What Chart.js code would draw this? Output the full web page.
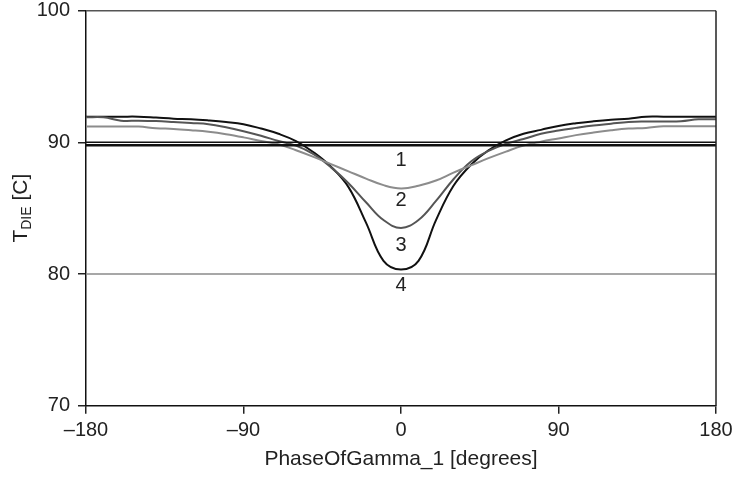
<!DOCTYPE html>
<html>
<head>
<meta charset="utf-8">
<script src="https://cdn.jsdelivr.net/npm/chart.js@4.4.1/dist/chart.umd.min.js"></script>
<style>
  body { margin: 0; background: #fff; }
  #wrap { width: 733px; height: 477px; }
</style>
</head>
<body>
<div id="wrap"><canvas id="chart" width="733" height="477"></canvas></div>
<script>
// phase angle, degrees
const phase = [-180, -170, -160, -150, -140, -130, -120, -110, -100, -90, -80, -70, -60, -50, -40, -30, -20, -10,
    0, 10, 20, 30, 40, 50, 60, 70, 80, 90, 100, 110, 120, 130, 140, 150, 160, 170, 180];

// die temperature, light grey curve (shallowest dip)
const tempLight = [91.2, 91.2, 91.2, 91.2, 91.08, 91.02, 90.92, 90.8, 90.62, 90.38, 90.1, 89.85, 89.4, 88.9, 88.35, 87.8, 87.25, 86.75,
    86.5, 86.7, 87.1, 87.7, 88.25, 88.8, 89.3, 89.75, 90.05, 90.3, 90.55, 90.75, 90.92, 91.05, 91.1, 91.22, 91.22, 91.22, 91.22];

// dark grey curve
const tempMid = [91.9, 91.9, 91.65, 91.65, 91.62, 91.55, 91.47, 91.38, 91.15, 90.85, 90.5, 90.1, 89.75, 89.1, 88.1, 86.9, 85.45, 84.1,
    83.5, 84.1, 85.55, 87.2, 88.55, 89.35, 89.9, 90.25, 90.65, 90.9, 91.1, 91.28, 91.42, 91.55, 91.58, 91.58, 91.6, 91.75, 91.75];

// black curve (deepest dip)
const tempDeep = [91.95, 91.95, 91.95, 91.95, 91.88, 91.8, 91.76, 91.67, 91.55, 91.38, 91.05, 90.65, 90.1, 89.25, 88.15, 86.6, 83.9, 81.0,
    80.35, 81.0, 84.1, 86.7, 88.3, 89.4, 90.15, 90.65, 90.95, 91.25, 91.45, 91.6, 91.72, 91.8, 91.95, 91.95, 91.95, 91.95, 91.95];

// flat reference levels
const flatUpper = 90.0;
const flatLower = 89.78;
const flatBottom = 80.0;

const xTicks = [-180, -90, 0, 90, 180];
const xTickLabels = ["\u2013180", "\u201390", "0", "90", "180"];
const yTicks = [70, 80, 90, 100];
const yTickLabels = ["70", "80", "90", "100"];

// curve labels, placed at phase 0
const curveLabels = ["1", "2", "3", "4"];
const curveLabelY = [88.6, 85.6, 82.2, 79.1];

const FONT = "'Liberation Sans', Arial, Helvetica, sans-serif";

function pts(ys) {
    return phase.map((p, i) => ({ x: p, y: ys[i] }));
}
function flat(v) {
    return [{ x: -180, y: v }, { x: 180, y: v }];
}

// top + right frame
const framePlugin = {
    id: "frame",
    afterDraw(chart) {
        const { ctx, chartArea: a } = chart;
        ctx.save();
        ctx.lineWidth = 1.5;
        ctx.strokeStyle = "#555";
        ctx.beginPath();
        ctx.moveTo(a.left, a.top);
        ctx.lineTo(a.right, a.top);
        ctx.stroke();
        ctx.strokeStyle = "#222";
        ctx.beginPath();
        ctx.moveTo(a.right, a.top);
        ctx.lineTo(a.right, a.bottom);
        ctx.stroke();
        ctx.restore();
    }
};

// numbers 1..4 next to the curves
const labelPlugin = {
    id: "curveLabels",
    afterDatasetsDraw(chart) {
        const { ctx, scales } = chart;
        ctx.save();
        ctx.font = "20px " + FONT;
        ctx.fillStyle = "#222";
        ctx.textAlign = "center";
        ctx.textBaseline = "middle";
        curveLabels.forEach((t, i) => {
            ctx.fillText(t, scales.x.getPixelForValue(0), scales.y.getPixelForValue(curveLabelY[i]));
        });
        ctx.restore();
    }
};

// y title with subscript
const yTitlePlugin = {
    id: "yTitle",
    afterDraw(chart) {
        const { ctx, chartArea: a } = chart;
        const parts = [["T", 21, 0], ["DIE", 14, 4], [" [C]", 21, 0]];
        ctx.save();
        let total = 0;
        parts.forEach(([s, sz]) => { ctx.font = sz + "px " + FONT; total += ctx.measureText(s).width; });
        ctx.translate(20, (a.top + a.bottom) / 2);
        ctx.rotate(-Math.PI / 2);
        ctx.fillStyle = "#222";
        ctx.textBaseline = "alphabetic";
        let x = -total / 2;
        parts.forEach(([s, sz, dy]) => {
            ctx.font = sz + "px " + FONT;
            ctx.fillText(s, x, 7 + dy);
            x += ctx.measureText(s).width;
        });
        ctx.restore();
    }
};

const lineDs = (data, color, width) => ({
    data,
    borderColor: color,
    borderWidth: width,
    pointRadius: 0,
    fill: false,
    tension: 0.4,
    borderJoinStyle: "round"
});

new Chart(document.getElementById("chart").getContext("2d"), {
    type: "line",
    data: {
        datasets: [
            lineDs(flat(flatBottom), "#8a8a8a", 1.5),
            lineDs(flat(flatUpper), "#111", 1.5),
            lineDs(flat(flatLower), "#111", 2.5),
            lineDs(pts(tempLight), "#8c8c8c", 2),
            lineDs(pts(tempMid), "#555", 2),
            lineDs(pts(tempDeep), "#111", 2)
        ]
    },
    options: {
        responsive: false,
        animation: false,
        events: [],
        layout: { padding: { top: 10.7, right: 17, left: 0, bottom: 0 } },
        plugins: { legend: { display: false }, tooltip: { enabled: false } },
        scales: {
            x: {
                type: "linear",
                min: -180,
                max: 180,
                afterBuildTicks: s => { s.ticks = xTicks.map(v => ({ value: v })); },
                afterFit: s => { s.height = 71.3; s.paddingLeft = 0; s.paddingRight = 0; },
                ticks: {
                    autoSkip: false,
                    maxRotation: 0,
                    padding: 5,
                    color: "#222",
                    font: { family: FONT, size: 20 },
                    callback: (v) => xTickLabels[xTicks.indexOf(v)]
                },
                grid: { drawOnChartArea: false, drawTicks: true, tickLength: 8, color: "#222", lineWidth: 1.5 },
                border: { display: true, color: "#111", width: 1.5 },
                title: {
                    display: true,
                    text: "PhaseOfGamma_1 [degrees]",
                    color: "#222",
                    font: { family: FONT, size: 21 },
                    padding: { top: 0, bottom: 5 }
                }
            },
            y: {
                type: "linear",
                min: 70,
                max: 100,
                afterBuildTicks: s => { s.ticks = yTicks.map(v => ({ value: v })); },
                afterFit: s => { s.width = 86; s.paddingTop = 0; s.paddingBottom = 0; },
                ticks: {
                    padding: 8,
                    color: "#222",
                    font: { family: FONT, size: 20 },
                    callback: (v) => yTickLabels[yTicks.indexOf(v)]
                },
                grid: { drawOnChartArea: false, drawTicks: true, tickLength: 8, color: "#222", lineWidth: 1.5 },
                border: { display: true, color: "#111", width: 1.5 }
            }
        }
    },
    plugins: [framePlugin, labelPlugin, yTitlePlugin]
});
</script>
</body>
</html>
